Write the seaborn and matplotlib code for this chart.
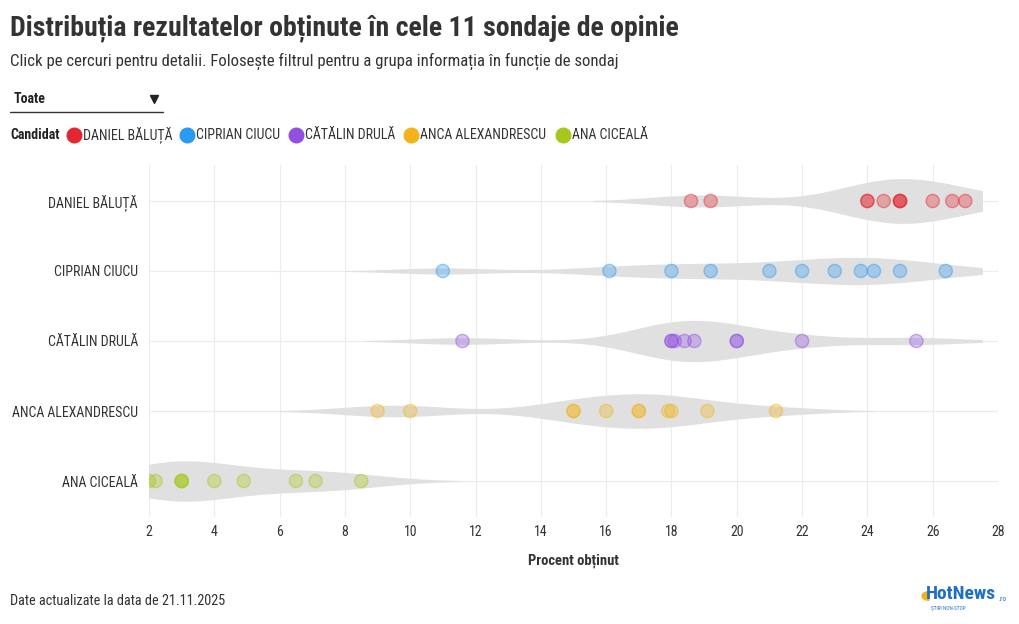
import numpy as np
import pandas as pd
import seaborn as sns
import matplotlib.pyplot as plt
from matplotlib import font_manager
from matplotlib.patches import Rectangle, Wedge

# candidates and their results in the polls (% obtained)
candidates = ["DANIEL BĂLUȚĂ", "CIPRIAN CIUCU", "CĂTĂLIN DRULĂ", "ANCA ALEXANDRESCU", "ANA CICEALĂ"]
colors = ["#e3262f", "#2b9af3", "#9150e0", "#f2b31b", "#a6c81a"]
baluta = [18.6, 19.2, 24.0, 24.0, 24.5, 25.0, 25.0, 25.0, 26.0, 26.6, 27.0]
ciucu = [11.0, 16.1, 18.0, 19.2, 21.0, 22.0, 23.0, 23.8, 24.2, 25.0, 26.4]
drula = [11.6, 18.0, 18.0, 18.1, 18.4, 18.7, 20.0, 20.0, 22.0, 25.5]
alexandrescu = [9.0, 10.0, 15.0, 15.0, 16.0, 17.0, 17.0, 17.9, 18.0, 19.1, 21.2]
ciceala = [2.0, 2.2, 3.0, 3.0, 3.0, 4.0, 4.9, 6.5, 7.1, 8.5]
xticks = list(range(2, 29, 2))

rows = []
for name, vals in zip(candidates, [baluta, ciucu, drula, alexandrescu, ciceala]):
    for v in vals:
        rows.append({"Candidat": name, "Procent": v})
df = pd.DataFrame(rows)

sns.set_theme(style="white")
fam = "Roboto"
for f in ["Roboto Condensed", "Liberation Sans Narrow"]:
    try:
        font_manager.findfont(f, fallback_to_default=False)
        fam = f
        break
    except Exception:
        pass
plt.rcParams["font.family"] = [fam, "DejaVu Sans"]

W, H = 1020, 624
fig = plt.figure(figsize=(W / 100, H / 100), dpi=100)
ax = fig.add_axes([149 / W, 1 - 517 / H, (998 - 149) / W, (517 - 165) / H])

# same kde bandwidth (1.5 points) for every candidate
BW = 1.5
sns.violinplot(data=df, x="Procent", y="Candidat", order=candidates, orient="h",
               color="#e0e0e0", linewidth=0, inner=None, density_norm="area",
               width=0.64, cut=2, saturation=1, ax=ax,
               bw_method=lambda k: BW / np.std(k.dataset, ddof=1))
clip = Rectangle((2, -1), 25.5, 7, transform=ax.transData)
for c in ax.collections:
    c.set_clip_path(clip)
n_before = len(ax.collections)

sns.stripplot(data=df, x="Procent", y="Candidat", order=candidates, hue="Candidat",
              hue_order=candidates, palette=colors, jitter=False, size=9.5,
              linewidth=1, legend=False, ax=ax, zorder=3)
for c in ax.collections[n_before:]:
    fc = c.get_facecolors()
    if len(fc) == 0:
        continue
    face = fc.copy()
    face[:, 3] = 0.33
    edge = fc.copy()
    edge[:, 3] = 0.45
    c.set_facecolors(face)
    c.set_edgecolors(edge)

ax.set_xlim(2, 28)
ax.set_ylim(4.514, -0.514)
ax.set_xticks(xticks)
ax.grid(True, color="#ececec", linewidth=0.8)
ax.set_axisbelow(True)
for s in ax.spines.values():
    s.set_visible(False)
ax.tick_params(axis="both", length=0, labelsize=10, colors="#333333", pad=6)
ax.tick_params(axis="y", pad=8)
ax.set_ylabel("")
ax.set_xlabel("Procent obținut", fontsize=10.5, fontweight="bold", color="#333333", labelpad=10)

# header
fig.text(10 / W, 1 - 28 / H, "Distribuția rezultatelor obținute în cele 11 sondaje de opinie",
         fontsize=20.1, fontweight="bold", color="#333333", va="center")
fig.text(10 / W, 1 - 61 / H, "Click pe cercuri pentru detalii. Folosește filtrul pentru a grupa informația în funcție de sondaj",
         fontsize=12.1, color="#333333", va="center")
fig.text(14 / W, 1 - 99 / H, "Toate", fontsize=10, fontweight="bold", color="#222222", va="center")
fig.add_artist(plt.Line2D([154 / W], [1 - 99 / H], marker="v", markersize=5.5,
                          color="#222222", linestyle="none"))
fig.add_artist(plt.Line2D([10 / W, 163 / W], [1 - 112 / H, 1 - 112 / H], color="#333333", linewidth=1))

# legend
fig.text(10 / W, 1 - 135 / H, "Candidat", fontsize=10, fontweight="bold", color="#222222", va="center")
xs = [74, 187, 296, 411, 563]
for x, name, col in zip(xs, candidates, colors):
    fig.add_artist(plt.Line2D([x / W], [1 - 135 / H], marker="o", markersize=10.5,
                              color=col, linestyle="none"))
    fig.text((x + 9) / W, 1 - 135 / H, name, fontsize=10, color="#333333", va="center")

# footer
fig.text(10 / W, 1 - 601 / H, "Date actualizate la data de 21.11.2025", fontsize=10.25, color="#333333", va="center")
fig.add_artist(Wedge((929 / W, 1 - 596 / H), 7 / W, 90, 270, color="#f2b31b",
                     transform=fig.transFigure))
fig.text(926 / W, 1 - 594 / H, "HotNews", fontsize=14, fontweight="bold", color="#1f6fc5", va="center")
fig.text(998 / W, 1 - 599 / H, ".ro", fontsize=5.5, color="#1f6fc5", va="center")
fig.text(931 / W, 1 - 608 / H, "ȘTIRI NON-STOP", fontsize=3.8, color="#1f6fc5", va="center")

fig.savefig("out.png", dpi=100)
